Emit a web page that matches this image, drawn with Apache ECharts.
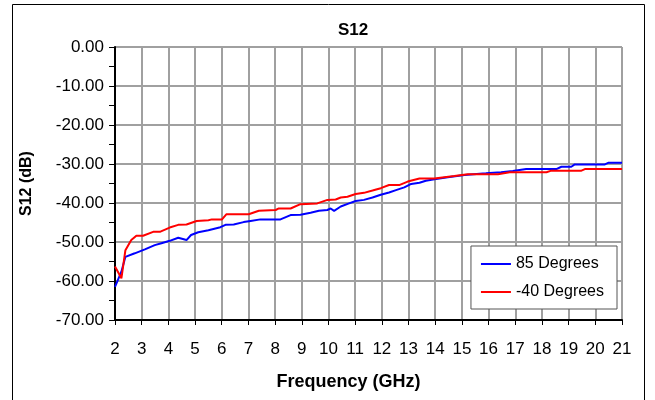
<!DOCTYPE html>
<html><head><meta charset="utf-8">
<script src="https://cdn.jsdelivr.net/npm/echarts@6/dist/echarts.min.js"></script>
<style>html,body{margin:0;padding:0;background:#fff}#c{width:655px;height:400px}</style>
</head><body><div id="c"></div>
<script>
var titleText = 'S12';
var xName = 'Frequency (GHz)';
var yName = 'S12 (dB)';
var seriesNames = ['85 Degrees', '-40 Degrees'];

var blueFreq = [2.0,2.24,2.39,2.74,3.12,3.49,3.74,4.05,4.37,4.68,4.85,5.12,5.5,5.95,6.14,6.45,6.82,7.08,7.45,8.2,8.58,8.95,9.33,9.64,9.96,10.08,10.21,10.46,10.77,11.02,11.33,11.65,11.96,12.27,12.53,12.84,13.1,13.41,13.65,13.97,14.47,15.1,15.9,15.97,16.47,16.91,17.41,18.54,18.73,19.1,19.23,20.36,20.48,21.0];
var blueS12 = [-61.5,-57.6,-53.8,-52.9,-51.9,-50.8,-50.3,-49.7,-48.9,-49.5,-48.2,-47.5,-47.0,-46.2,-45.6,-45.5,-44.9,-44.6,-44.2,-44.2,-43.1,-43.0,-42.5,-42.0,-41.8,-41.4,-42.0,-40.9,-40.1,-39.5,-39.2,-38.6,-37.9,-37.3,-36.7,-36.0,-35.1,-34.8,-34.3,-33.9,-33.4,-32.8,-32.4,-32.1,-32.1,-31.8,-31.3,-31.3,-30.7,-30.7,-30.1,-30.1,-29.7,-29.7];

var redFreq = [2.0,2.24,2.39,2.61,2.8,3.05,3.43,3.68,4.05,4.37,4.68,5.06,5.5,5.63,6.01,6.17,7.01,7.39,8.02,8.14,8.58,8.95,9.58,9.96,10.27,10.46,10.71,11.02,11.33,11.65,11.96,12.27,12.65,12.97,13.41,13.97,14.34,14.72,15.22,16.35,16.79,18.17,18.35,19.48,19.61,21.0];
var redS12 = [-56.3,-59.3,-52.1,-49.5,-48.4,-48.4,-47.4,-47.4,-46.3,-45.6,-45.5,-44.6,-44.4,-44.2,-44.2,-42.9,-42.9,-42.0,-41.8,-41.4,-41.4,-40.3,-40.1,-39.2,-39.1,-38.6,-38.4,-37.7,-37.4,-36.8,-36.2,-35.4,-35.4,-34.5,-33.7,-33.7,-33.4,-33.1,-32.6,-32.6,-32.1,-32.1,-31.7,-31.7,-31.3,-31.3];

function zip(a, b) { return a.map(function (v, i) { return [v, b[i]]; }); }

var FONT = '"Liberation Sans", Arial, sans-serif';
var chart = echarts.init(document.getElementById('c'), null, {renderer: 'canvas'});
chart.setOption({
  animation: false,
  backgroundColor: '#fff',
  textStyle: {fontFamily: FONT},
  title: {text: titleText, left: 348, top: 17, textAlign: 'center',
    textStyle: {fontFamily: FONT, fontSize: 17, fontWeight: 'bold', color: '#000'}},
  grid: {left: 115, right: 33, top: 47, bottom: 80, show: true, borderColor: '#000', borderWidth: 1, backgroundColor: 'transparent'},
  legend: {
    right: 38, top: 246, orient: 'vertical', itemWidth: 30, itemHeight: 2, itemGap: 12,
    padding: [10, 13, 9, 10], backgroundColor: '#fff', borderColor: '#555', borderWidth: 1, borderRadius: 0,
    icon: 'rect',
    textStyle: {fontFamily: FONT, fontSize: 16, color: '#000'},
    data: seriesNames
  },
  xAxis: {
    type: 'value', min: 2, max: 21, interval: 1,
    name: xName, nameLocation: 'middle', nameGap: 53,
    nameTextStyle: {fontFamily: FONT, fontSize: 18, fontWeight: 'bold', color: '#000', padding: [0, 40, 0, 0]},
    axisLine: {show: true, onZero: false, lineStyle: {color: '#000', width: 2}},
    axisTick: {show: true, length: 5, lineStyle: {color: '#000'}},
    axisLabel: {fontFamily: FONT, fontSize: 17, color: '#000', margin: 21},
    splitLine: {show: true, lineStyle: {color: '#a0a0a0', width: 2}}
  },
  yAxis: {
    type: 'value', min: -70, max: 0, interval: 10,
    name: yName, nameLocation: 'middle', nameGap: 80,
    nameTextStyle: {fontFamily: FONT, fontSize: 16, fontWeight: 'bold', color: '#000'},
    axisLine: {show: true, onZero: false, lineStyle: {color: '#000', width: 2}},
    axisTick: {show: true, length: 6, lineStyle: {color: '#000'}},
    minorTick: {show: true, splitNumber: 2, length: 6, lineStyle: {color: '#000'}},
    axisLabel: {fontFamily: FONT, fontSize: 17, color: '#000', margin: 11,
      formatter: function (v) { return v.toFixed(2); }},
    splitLine: {show: true, lineStyle: {color: '#a0a0a0', width: 2}}
  },
  graphic: [{type: 'rect', shape: {x: 12.5, y: 4.5, width: 632, height: 400}, style: {fill: 'none', stroke: '#000', lineWidth: 1}, silent: true, z: 100}],
  series: [
    {name: seriesNames[0], type: 'line', data: zip(blueFreq, blueS12), showSymbol: false, symbol: 'none',
      lineStyle: {color: '#0000ff', width: 2}, itemStyle: {color: '#0000ff'}, z: 3},
    {name: seriesNames[1], type: 'line', data: zip(redFreq, redS12), showSymbol: false, symbol: 'none',
      lineStyle: {color: '#ff0000', width: 2}, itemStyle: {color: '#ff0000'}, z: 4}
  ]
});
</script></body></html>
